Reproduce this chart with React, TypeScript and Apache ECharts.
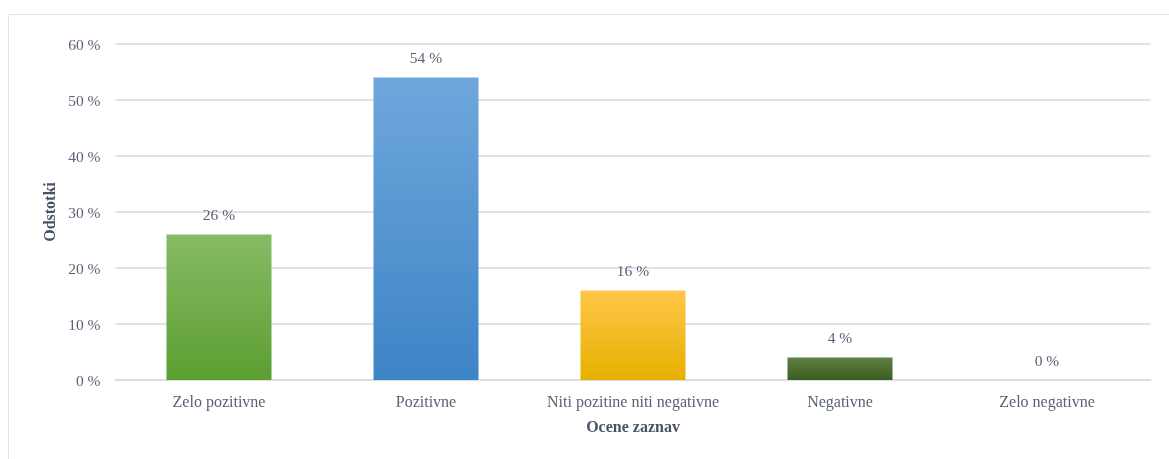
import React, { useEffect, useRef } from "react";
import * as echarts from "echarts";

const categories = ["Zelo pozitivne", "Pozitivne", "Niti pozitine niti negativne", "Negativne", "Zelo negativne"];
const values = [26, 54, 16, 4, 0];
const gradients = [
  ["#86bb66", "#5c9e30"],
  ["#6fa7dc", "#3d84c6"],
  ["#ffc549", "#e6b000"],
  ["#5f7f43", "#3a5d1f"],
  ["#a5a5a5", "#7f7f7f"],
];
const yTicks = [0, 10, 20, 30, 40, 50, 60];

const FONT = "'Liberation Serif', 'Times New Roman', serif";
const TEXT = "#596275";
const TITLE = "#475468";

export default function App() {
  const ref = useRef<HTMLDivElement>(null);
  useEffect(() => {
    const chart = echarts.init(ref.current!, undefined, { renderer: "svg" });
    chart.setOption({
      animation: false,
      graphic: [
        {
          type: "rect",
          shape: { x: 8.5, y: 14.5, width: 1200, height: 500 },
          style: { fill: "#fff", stroke: "#dde3ea", lineWidth: 1 },
          z: -10,
          silent: true,
        },
      ],
      grid: { left: 115.5, right: 18.5, top: 44, bottom: 79, containLabel: false },
      xAxis: {
        type: "category",
        data: categories,
        axisTick: { show: false },
        axisLine: { lineStyle: { color: "#d9dee5", width: 2 } },
        axisLabel: { color: TEXT, fontFamily: FONT, fontSize: 16, margin: 13, interval: 0, hideOverlap: false },
        name: "Ocene zaznav",
        nameLocation: "middle",
        nameGap: 38,
        nameTextStyle: { color: TITLE, fontFamily: FONT, fontSize: 16, fontWeight: "bold" },
      },
      yAxis: {
        type: "value",
        min: yTicks[0],
        max: yTicks[yTicks.length - 1],
        interval: 10,
        axisLabel: { color: TEXT, fontFamily: FONT, fontSize: 15.5, margin: 15, formatter: "{value} %" },
        splitLine: { lineStyle: { color: "#dfe3e9", width: 2 } },
        axisLine: { show: false },
        axisTick: { show: false },
        name: "Odstotki",
        nameLocation: "middle",
        nameGap: 54,
        nameRotate: 90,
        nameTextStyle: { color: TITLE, fontFamily: FONT, fontSize: 16, fontWeight: "bold" },
      },
      series: [
        {
          type: "bar",
          barWidth: 105,
          data: values.map((v, i) => ({
            value: v,
            itemStyle: {
              color: new echarts.graphic.LinearGradient(0, 0, 0, 1, [
                { offset: 0, color: gradients[i][0] },
                { offset: 1, color: gradients[i][1] },
              ]),
            },
          })),
          label: {
            show: true,
            position: "top",
            distance: 12,
            formatter: "{c} %",
            color: TEXT,
            fontFamily: FONT,
            fontSize: 15.5,
          },
        },
      ],
    });
    return () => chart.dispose();
  }, []);
  return (
    <div
      ref={ref}
      style={{ position: "fixed", left: 0, top: 0, width: 1169, height: 459 }}
    />
  );
}
